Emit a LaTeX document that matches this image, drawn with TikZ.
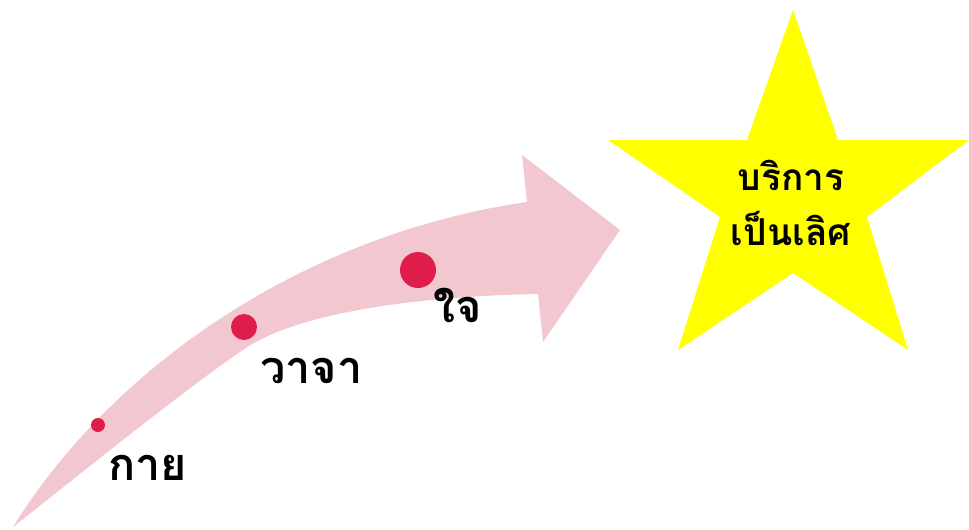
\documentclass[tikz,border=0pt]{standalone}
\usepackage{fontspec}
\newfontfamily\thaifont[Script=Thai]{Loma}
\definecolor{arrowpink}{RGB}{242,199,207}
\definecolor{dotred}{RGB}{225,30,75}
\definecolor{staryellow}{RGB}{255,255,0}

\begin{document}
\begin{tikzpicture}[x=1pt,y=-1pt,
  dot/.style={circle, fill=dotred, inner sep=0pt},
  word/.style={anchor=base west, inner sep=0pt, font=\thaifont\bfseries\fontsize{45}{55}\selectfont}]
\useasboundingbox (0,0) rectangle (969,530);

% Curved arrow (shaft and head)
\fill[arrowpink] (13,527) .. controls (110,370) and (300,235) .. (527,202)
  -- (522,155) -- (620,230) -- (543,342) -- (538,294)
  .. controls (430,296) and (300,310) .. (243,350)
  .. controls (190,385) and (60,490) .. cycle;

% Star (goal)
\fill[staryellow] (793,10) -- (838,140) -- (969,140) -- (867,217) -- (908,350)
  -- (793,273) -- (678,350) -- (720,217) -- (608,140) -- (747,140) -- cycle;
\node[word, anchor=base, align=center, font=\thaifont\bfseries\fontsize{37}{55}\selectfont]
  (goal) at (791,245) {บริการ\\เป็นเลิศ};

% Steps along the arrow
\node[dot, minimum size=14pt] (dkai) at (98,425) {};
\node[dot, minimum size=26pt] (dwaja) at (244,327) {};
\node[dot, minimum size=36pt] (djai) at (418,270) {};

\node[word] (kai) at (108,480) {กาย};
\node[word] (waja) at (260,383) {วาจา};
\node[word] (jai) at (433,322) {ใจ};

\end{tikzpicture}
\end{document}
